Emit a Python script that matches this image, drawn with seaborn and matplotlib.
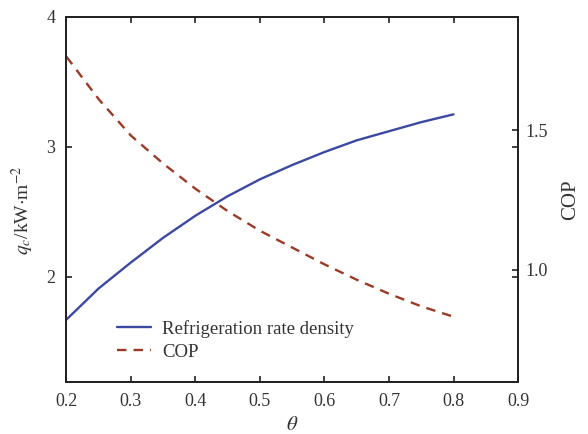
import matplotlib
matplotlib.use("Agg")
import matplotlib.pyplot as plt
import seaborn as sns
import pandas as pd
import numpy as np

theta = [0.2, 0.25, 0.3, 0.35, 0.4, 0.45, 0.5, 0.55, 0.6, 0.65, 0.7, 0.75, 0.8]
q_rate = [1.67, 1.91, 2.11, 2.30, 2.47, 2.62, 2.75, 2.86, 2.96, 3.05, 3.12, 3.19, 3.25]
cop = [1.762, 1.61, 1.48, 1.38, 1.29, 1.21, 1.14, 1.08, 1.02, 0.965, 0.915, 0.87, 0.833]
x_ticks = [0.2, 0.3, 0.4, 0.5, 0.6, 0.7, 0.8, 0.9]
left_ticks = [2, 3, 4]
right_ticks = [1.0, 1.5]

sns.set_theme(style="white")
plt.rcParams['font.family'] = ['Liberation Serif', 'DejaVu Serif']
plt.rcParams['mathtext.fontset'] = 'stix'

df = pd.DataFrame({"theta": theta, "q": q_rate, "cop": cop})

fig = plt.figure(figsize=(5.88, 4.34), dpi=100)
ax = fig.add_axes([0.113, 0.12, 0.768, 0.841])
ax2 = ax.twinx()

blue = "#3b49a3"
red = "#9c3a26"

sns.lineplot(data=df, x="theta", y="q", ax=ax, color=blue, lw=1.7,
             label="Refrigeration rate density", legend=False)
sns.lineplot(data=df, x="theta", y="cop", ax=ax2, color=red, lw=1.7,
             linestyle=(0, (4, 3)), label="COP", legend=False)

ax.set_xlim(0.2, 0.9)
ax.set_ylim(1.19, 4.0)
ax2.set_ylim(0.6, 1.904)
ax.set_xticks(x_ticks)
ax.set_xticklabels([f"{v:.1f}" for v in x_ticks])
ax.set_yticks(left_ticks)
ax.set_yticklabels([str(v) for v in left_ticks])
ax2.set_yticks(right_ticks)
ax2.set_yticklabels([f"{v:.1f}" for v in right_ticks])

for a in (ax, ax2):
    for s in a.spines.values():
        s.set_color("#222222")
        s.set_linewidth(1.3)
        s.set_visible(True)

ax.tick_params(axis='both', direction='in', length=4, width=1.2, color="#222222",
               labelsize=13, labelcolor="#333333", top=True, right=True,
               bottom=True, left=True, pad=8)
ax2.tick_params(axis='y', direction='in', length=4, width=1.2, color="#222222",
                labelsize=13, labelcolor="#333333", right=True, pad=5)

ax.set_xlabel(r"$\theta$", fontsize=15, color="#333333", labelpad=4)
ax.set_ylabel(r"$q_c$/kW$\cdot$m$^{-2}$", fontsize=14, color="#333333")
ax.yaxis.set_label_coords(-0.068, 0.47)
ax2.set_ylabel("COP", fontsize=15, color="#333333", labelpad=10)

h1, l1 = ax.get_legend_handles_labels()
h2, l2 = ax2.get_legend_handles_labels()
leg = ax.legend(h1 + h2, l1 + l2, loc="lower left", bbox_to_anchor=(0.075, 0.012),
                frameon=False, fontsize=13.5, handlelength=1.8, labelspacing=0.3,
                handletextpad=0.6)
for t in leg.get_texts():
    t.set_color("#333333")

fig.savefig("out.png", dpi=100)
